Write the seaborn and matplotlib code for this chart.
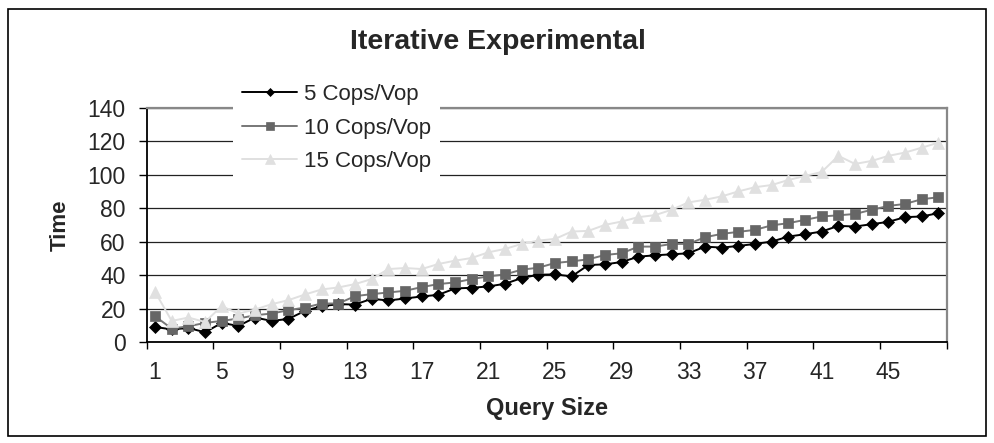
import numpy as np
import pandas as pd
import matplotlib
matplotlib.use("Agg")
import matplotlib.pyplot as plt
from matplotlib.patches import Rectangle
import seaborn as sns

# ==========================================
# DATA
# ==========================================
query_size = list(range(1, 49))

cops_5 = [9, 7.5, 8.4, 5.8, 11.4, 9.6, 14.6, 12.6, 13.8, 18.6,
          21.4, 22.6, 22.4, 25.8, 24.8, 26, 27.2, 28.2, 32, 32.4,
          33.2, 34.8, 38.2, 40.2, 40.4, 39.2, 46, 46.4, 47.8, 51,
          51.8, 52.4, 53, 57, 56.4, 57.4, 58.6, 60, 63, 64.4,
          66, 69.4, 69, 70.4, 71.8, 74.6, 75, 77]

cops_10 = [15.4, 8, 9.4, 11.4, 12.6, 14, 16, 17, 19, 20.6,
           23, 23, 27.4, 28.6, 29.6, 30.6, 32.8, 34.6, 35.6, 37.6,
           39.2, 40.4, 43.2, 44.4, 47.2, 48.2, 49.4, 52, 53, 57,
           57, 58.6, 58.6, 62.6, 64.6, 65.8, 67, 69.7, 71, 73,
           75, 75.7, 76.5, 79, 81.3, 82.5, 85.3, 86.5]

cops_15 = [30, 12.6, 14.6, 12, 21.4, 17, 19.4, 22.6, 25, 28.4,
           31.4, 32.6, 34.6, 37.6, 43.6, 44.2, 43.6, 46.6, 48.6, 50.2,
           53.6, 55.6, 58.6, 60.6, 61.6, 66, 66.4, 70, 72, 74.6,
           75.8, 79, 83.4, 85, 87, 90, 92.5, 93.8, 96.8, 99.2,
           101.6, 111.2, 106.4, 108.2, 111.2, 113.2, 116.1, 119.1]

series_names = ["5 Cops/Vop", "10 Cops/Vop", "15 Cops/Vop"]
y_ticks = [0, 20, 40, 60, 80, 100, 120, 140]
x_labels = [1, 5, 9, 13, 17, 21, 25, 29, 33, 37, 41, 45]

# ==========================================
# STYLE
# ==========================================
sns.set_theme(style="white")
plt.rcParams['font.family'] = ['Liberation Sans', 'DejaVu Sans']

styles = {
    "5 Cops/Vop":  dict(color="#000000", marker="D", markersize=5.8, line="#000000"),
    "10 Cops/Vop": dict(color="#666666", marker="s", markersize=7.2, line="#777777"),
    "15 Cops/Vop": dict(color="#e0e0e0", marker="^", markersize=9.0, line="#e0e0e0"),
}

fig = plt.figure(figsize=(9.95, 4.43), dpi=100)
ax = fig.add_axes([0.14744, 0.22799, 0.80402, 0.5289])

for name, vals in zip(series_names, [cops_5, cops_10, cops_15]):
    df = pd.DataFrame({"Query Size": query_size, "Time": vals})
    st = styles[name]
    sns.lineplot(data=df, x="Query Size", y="Time", ax=ax, label=name,
                 color=st["line"], marker=st["marker"], markersize=st["markersize"],
                 markerfacecolor=st["color"], markeredgecolor=st["color"],
                 markeredgewidth=0.5, linewidth=1.4)

# axes limits / ticks (Excel-style category axis)
ax.set_xlim(0.5, 48.5)
ax.set_ylim(0, 140)
ax.set_yticks(y_ticks)
ax.set_xticks(x_labels)
ax.set_xticks(np.arange(0.5, 49, 4), minor=True)
ax.tick_params(axis="x", which="major", length=0, pad=14, labelsize=16.5)
ax.tick_params(axis="x", which="minor", length=5, width=1, direction="out", color="black", bottom=True)
ax.tick_params(axis="y", which="major", length=6, width=1, direction="out", color="black", left=True, pad=9, labelsize=16.5)

ax.grid(axis="y", color="#222222", linewidth=0.9)
ax.set_axisbelow(True)

for side in ["left", "bottom"]:
    ax.spines[side].set_color("black")
    ax.spines[side].set_linewidth(1.3)
for side in ["top", "right"]:
    ax.spines[side].set_visible(True)
    ax.spines[side].set_color("#888888")
    ax.spines[side].set_linewidth(1.6)

ax.set_xlabel("Query Size", fontsize=17, fontweight="bold")
ax.set_ylabel("Time", fontsize=16, fontweight="bold")
ax.xaxis.set_label_coords(0.5, -0.235)
ax.yaxis.set_label_coords(-0.095, 0.5)

leg = ax.legend(loc="center left", bbox_to_anchor=(0.223, 0.711), bbox_transform=fig.transFigure,
                frameon=True, fancybox=False, facecolor="white", edgecolor="none", framealpha=1,
                fontsize=16, handlelength=2.5, handletextpad=0.3, labelspacing=0.57,
                borderpad=0.4, markerscale=0.75)

fig.text(0.5, 1 - 42 / 443, "Iterative Experimental", ha="center", va="center",
         fontsize=20.5, fontweight="bold")

# outer chart border
fig.patches.append(Rectangle((8 / 995, 1 - 436 / 443), 978 / 995, 427 / 443,
                             transform=fig.transFigure, fill=False,
                             edgecolor="black", linewidth=1.2))

fig.savefig("out.png", dpi=100)
